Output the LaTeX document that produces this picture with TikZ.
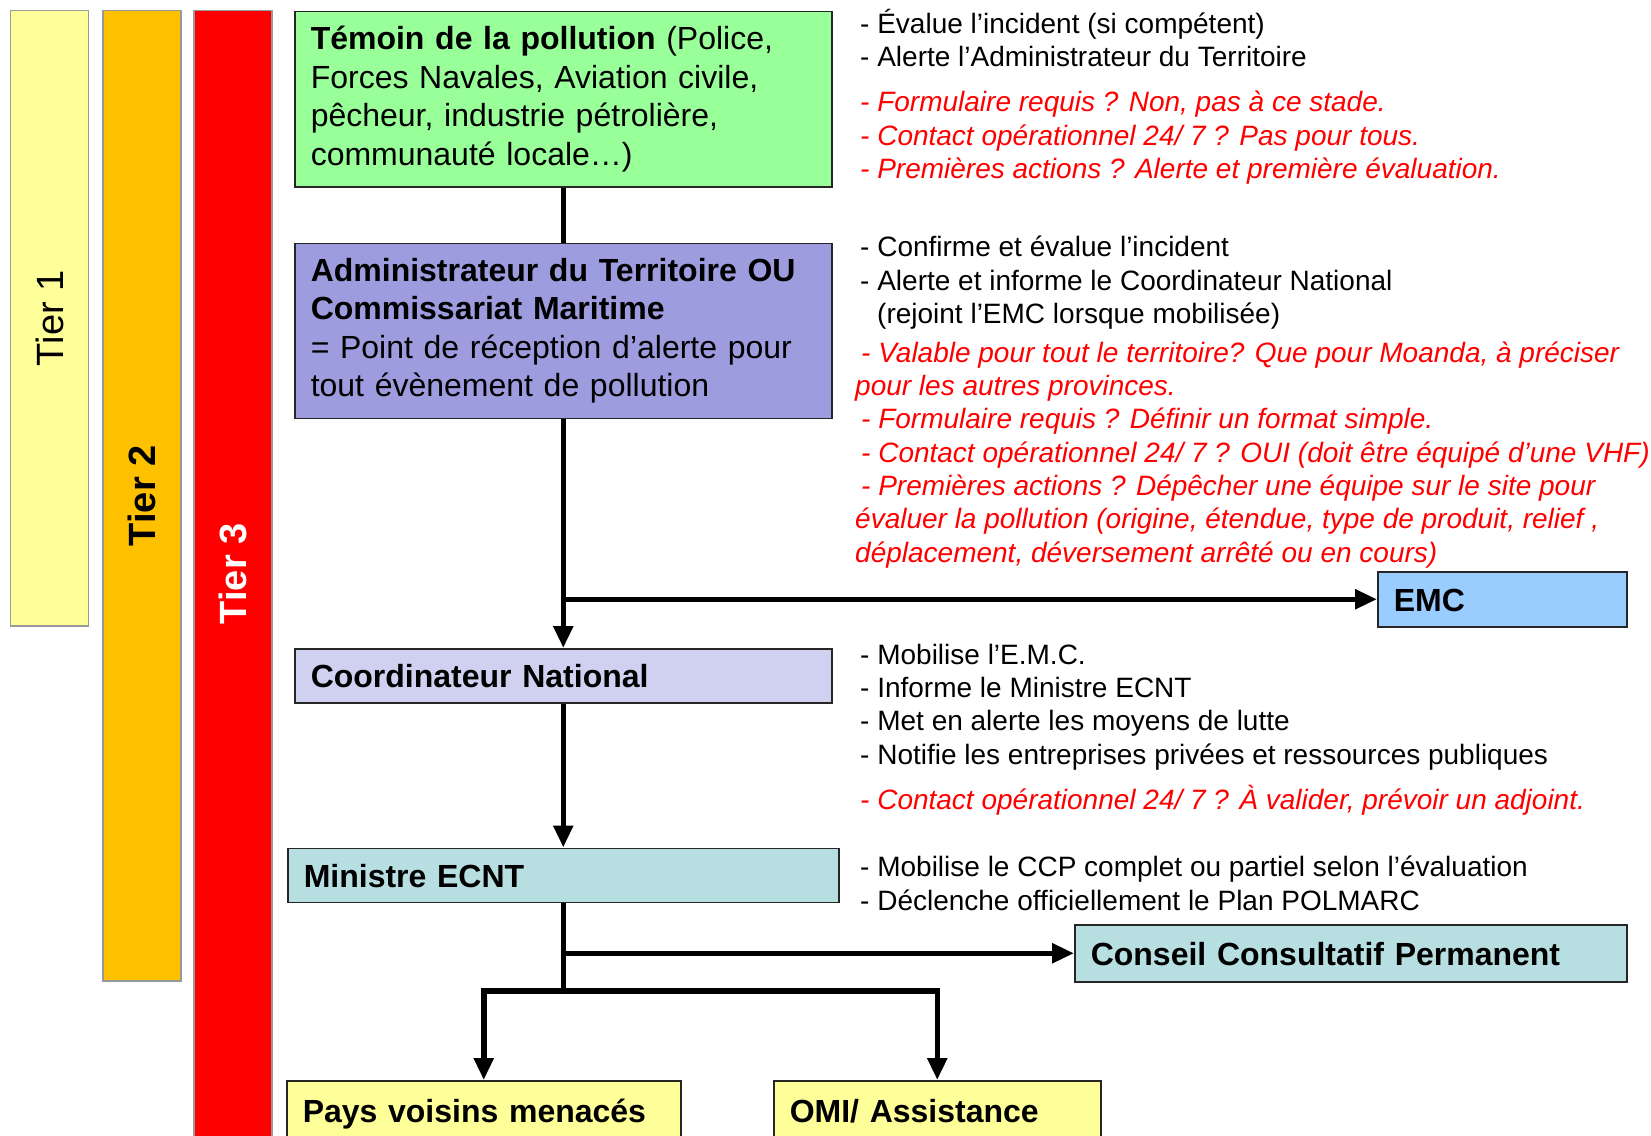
\documentclass[tikz,border=0pt]{standalone}
\usepackage{fontspec}
\setmainfont{Liberation Sans}
\usetikzlibrary{positioning,arrows.meta}

\definecolor{tierjaune}{HTML}{FFFF99}
\definecolor{tierorange}{HTML}{FFC000}
\definecolor{tierrouge}{HTML}{FF0000}
\definecolor{fondvert}{HTML}{99FF99}
\definecolor{fondviolet}{HTML}{9C9CDE}
\definecolor{fondlavande}{HTML}{D0D0F0}
\definecolor{fondturquoise}{HTML}{B7DEE1}
\definecolor{fondbleu}{HTML}{99CCFF}

\tikzset{
  box/.style={draw=black!85, line width=1.5pt, inner xsep=16pt, inner ysep=0pt,
    align=left, font=\fontsize{32}{38.5}\selectfont},
  titre/.style={box, font=\fontsize{32}{38.5}\selectfont\bfseries,
    text height=28pt, text depth=4pt},
  tierbar/.style={draw=black!40, line width=1.5pt, rotate=90, minimum height=78pt,
    inner sep=0pt, font=\fontsize{38}{40}\selectfont},
  note/.style={anchor=base west, align=left, inner sep=0pt,
    font=\fontsize{28}{33.3}\selectfont},
  remarque/.style={note, text=red, font=\fontsize{28}{33.3}\selectfont\itshape},
  link/.style={line width=5.5pt},
  arrow/.style={link, -{Triangle[length=22pt,width=19pt]}},
}

\begin{document}
\begin{tikzpicture}[x=1pt, y=-1pt]
  \clip (0,0) rectangle (1651,1135);

  % niveaux
  \node (tier1) [tierbar, fill=tierjaune, minimum width=615.5pt] at (49.5,318.25) {Tier 1};
  \node (tier2) [tierbar, fill=tierorange, minimum width=970.5pt,
    font=\fontsize{38}{40}\selectfont\bfseries] at (142,495.75) {Tier 2};
  \node (tier3) [tierbar, fill=tierrouge, minimum width=1126.5pt, text=white,
    font=\fontsize{38}{40}\selectfont\bfseries] at (233,573.75) {Tier 3};

  % acteurs
  \node (temoin) [box, fill=fondvert, minimum width=537pt, minimum height=175.5pt,
    text width=505pt, anchor=north west] at (294,10.5)
    {\textbf{Témoin de la pollution} (Police,\\Forces Navales, Aviation civile,\\
     pêcheur, industrie pétrolière,\\communauté locale…)};
  \node (admin) [box, fill=fondviolet, minimum width=537pt, minimum height=175pt,
    text width=505pt, below=55pt of temoin]
    {\textbf{Administrateur du Territoire OU}\\\textbf{Commissariat Maritime}\\
     = Point de réception d’alerte pour\\tout évènement de pollution};
  \node (coord) [titre, fill=fondlavande, minimum width=537pt, minimum height=54pt,
    text width=505pt, below=229pt of admin] {Coordinateur National};
  \node (ministre) [titre, fill=fondturquoise, minimum width=551pt, minimum height=54pt,
    text width=519pt, below=144pt of coord] {Ministre ECNT};
  \node (emc) [titre, fill=fondbleu, minimum width=249pt, minimum height=55pt,
    text width=217pt, anchor=north west] at (1377,571) {EMC};
  \node (ccp) [titre, fill=fondturquoise, minimum width=552pt, minimum height=57pt,
    text width=520pt, anchor=north west] at (1074,924) {Conseil Consultatif Permanent};
  \node (pays) [titre, fill=tierjaune, minimum width=394pt, minimum height=60pt,
    text width=362pt, anchor=north west] at (286,1080) {Pays voisins menacés};
  \node (omi) [titre, fill=tierjaune, minimum width=327pt, minimum height=60pt,
    text width=295pt, anchor=north west] at (773,1080) {OMI/ Assistance};

  % roles et questions (ancre sur la derniere ligne)
  \node (roletemoin) [note] at (860,66.5)
    {- Évalue l’incident (si compétent)\\- Alerte l’Administrateur du Territoire};
  \node (qtemoin) [remarque] at (860,178.5)
    {- Formulaire requis ? Non, pas à ce stade.\\
     - Contact opérationnel 24/ 7 ? Pas pour tous.\\
     - Premières actions ? Alerte et première évaluation.};
  \node (roleadmin) [note] at (860,323.5)
    {- Confirme et évalue l’incident\\- Alerte et informe le Coordinateur National\\
     \hspace*{17pt}(rejoint l’EMC lorsque mobilisée)};
  \node (qadmin) [remarque] at (855,562)
    {\hspace*{6pt}- Valable pour tout le territoire? Que pour Moanda, à préciser\\
     pour les autres provinces.\\
     \hspace*{6pt}- Formulaire requis ? Définir un format simple.\\
     \hspace*{6pt}- Contact opérationnel 24/ 7 ? OUI (doit être équipé d’une VHF)\\
     \hspace*{6pt}- Premières actions ? Dépêcher une équipe sur le site pour\\
     évaluer la pollution (origine, étendue, type de produit, relief ,\\
     déplacement, déversement arrêté ou en cours)};
  \node (rolecoord) [note] at (860,764)
    {- Mobilise l’E.M.C.\\- Informe le Ministre ECNT\\- Met en alerte les moyens de lutte\\
     - Notifie les entreprises privées et ressources publiques};
  \node (qcoord) [remarque] at (860,809)
    {- Contact opérationnel 24/ 7 ? À valider, prévoir un adjoint.};
  \node (roleministre) [note] at (860,910)
    {- Mobilise le CCP complet ou partiel selon l’évaluation\\
     - Déclenche officiellement le Plan POLMARC};

  % liaisons
  \draw[link] (temoin.south) -- (admin.north);
  \draw[arrow] (admin.south) -- (coord.north);
  \draw[arrow] (admin.south |- emc.west) -- (emc.west);
  \draw[arrow] (coord.south) -- (ministre.north);
  \draw[link] (ministre.south) -- ++(0,88) coordinate (fourche);
  \draw[arrow] (ministre.south |- ccp.west) -- (ccp.west);
  \draw[arrow] (fourche) -| (pays.north);
  \draw[arrow] (fourche) -| (omi.north);
\end{tikzpicture}
\end{document}
